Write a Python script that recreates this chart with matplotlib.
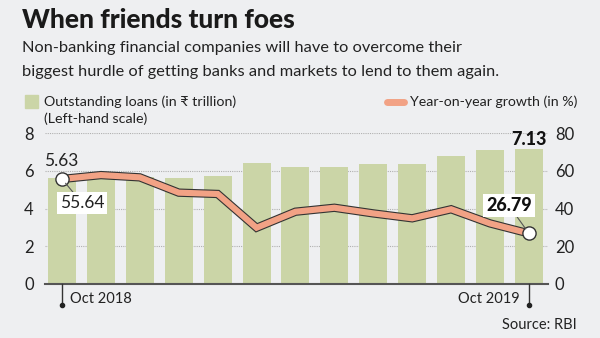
import matplotlib
matplotlib.use("Agg")
import matplotlib.pyplot as plt
import numpy as np

plt.rcParams['font.family'] = ['Lato', 'DejaVu Sans']

months = ["Oct 2018", "Nov 2018", "Dec 2018", "Jan 2019", "Feb 2019", "Mar 2019", "Apr 2019",
          "May 2019", "Jun 2019", "Jul 2019", "Aug 2019", "Sep 2019", "Oct 2019"]
loans = [5.63, 5.60, 5.68, 5.59, 5.73, 6.40, 6.22, 6.22, 6.35, 6.36, 6.79, 7.10, 7.13]
growth = [55.64, 57.7, 56.5, 48.4, 47.7, 29.8, 38.3, 40.4, 37.4, 34.8, 39.6, 32.1, 26.79]

bg = "#eeeff1"
bar_color = "#cbd5a7"
line_color = "#f2a285"
dark = "#222222"

W, H = 600, 338
fig = plt.figure(figsize=(6, 3.38), dpi=100, facecolor=bg)


def fx(x):
    return x / W


def fy(y):
    return 1 - y / H


ax = fig.add_axes([fx(45), fy(284), (548 - 45) / W, (284 - 133) / H])
ax.set_facecolor(bg)
x = np.arange(len(months))

for g in [2, 4, 6, 8]:
    ax.axhline(g, color="#b0b0b0", lw=0.8, ls=(0, (1, 1)), zorder=0)

ax.bar(x, loans, width=0.72, color=bar_color, zorder=1)
ax.set_xlim(-0.437, 12.49)
ax.set_ylim(0, 8)
ax.set_yticks([0, 2, 4, 6, 8])
ax.set_xticks([])
for s in ["top", "right", "left"]:
    ax.spines[s].set_visible(False)
ax.spines["bottom"].set_color("#555555")
ax.spines["bottom"].set_linewidth(1.5)
ax.tick_params(axis="y", length=0, labelsize=12, labelcolor=dark, pad=8)

ax2 = ax.twinx()
ax2.set_ylim(0, 80)
ax2.set_yticks([0, 20, 40, 60, 80])
for s in ["top", "right", "left", "bottom"]:
    ax2.spines[s].set_visible(False)
ax2.tick_params(axis="y", length=0, labelsize=12, labelcolor=dark, pad=5)
ax2.plot(x, growth, color="#333333", lw=6, solid_joinstyle="miter", zorder=3)
ax2.plot(x, growth, color=line_color, lw=4.4, solid_joinstyle="miter", zorder=4)
ax2.plot([x[0], x[-1]], [growth[0], growth[-1]], "o", ms=9.5, mfc="white", mec="#333333", mew=1, zorder=5)

# value labels
ax.annotate(f"{loans[0]:.2f}", (x[0], loans[0]), xytext=(-1, 17), textcoords="offset pixels",
            ha="center", va="center", fontsize=12.5, color=dark, zorder=6)
ax.annotate(f"{loans[-1]:.2f}", (x[-1], loans[-1]), xytext=(0, 10), textcoords="offset pixels",
            ha="center", va="center", fontsize=13, fontweight="black", color="#111111", zorder=6)
ax2.annotate(f"{growth[0]:.2f}", (x[0], growth[0]), xytext=(20, -24), textcoords="offset pixels",
             ha="center", va="center", fontsize=12.5, color=dark, zorder=6,
             bbox=dict(boxstyle="square,pad=0.15", fc="white", ec="none"),
             arrowprops=dict(arrowstyle="-", color="#555555", lw=0.8, shrinkA=0, shrinkB=4))
ax2.annotate(f"{growth[-1]:.2f}", (x[-1], growth[-1]), xytext=(-20, 28), textcoords="offset pixels",
             ha="center", va="center", fontsize=13, fontweight="black", color="#111111", zorder=6,
             bbox=dict(boxstyle="square,pad=0.15", fc="white", ec="none"),
             arrowprops=dict(arrowstyle="-", color="#555555", lw=0.8, shrinkA=0, shrinkB=4))

# x ticks for first and last month
for i, ha, dx in [(0, "left", 8), (len(months) - 1, "right", -9)]:
    ax.plot([x[i], x[i]], [0, -1.1], color="#333333", lw=1, clip_on=False, zorder=6)
    ax.plot([x[i]], [-1.1], "o", ms=3, color="#222222", clip_on=False, zorder=6)
    ax.annotate(months[i], (x[i], 0), xytext=(dx, -15), textcoords="offset pixels",
                ha=ha, va="center", fontsize=10.5, color=dark, annotation_clip=False)

# titles
fig.text(fx(22), fy(20), "When friends turn foes", fontsize=19, fontweight="black",
         color="#1a1a1a", ha="left", va="center")
fig.text(fx(22), fy(48), "Non-banking financial companies will have to overcome their",
         fontsize=11.8, color=dark, ha="left", va="center")
fig.text(fx(22), fy(72), "biggest hurdle of getting banks and markets to lend to them again.",
         fontsize=11.8, color=dark, ha="left", va="center")

# legend
fig.patches.append(plt.Rectangle((fx(25), fy(108)), 13 / W, 13 / H, transform=fig.transFigure,
                                 color=bar_color))
fig.text(fx(44), fy(102), "Outstanding loans (in \u20b9 trillion)", fontsize=10.3, color=dark,
         ha="left", va="center")
fig.text(fx(44), fy(119), "(Left-hand scale)", fontsize=10.3, color=dark, ha="left", va="center")
fig.lines.append(plt.Line2D([fx(387), fx(404)], [fy(102), fy(102)], transform=fig.transFigure,
                            color=line_color, lw=5, solid_capstyle="round"))
fig.text(fx(410), fy(102), "Year-on-year growth (in %)", fontsize=10.2, color=dark,
         ha="left", va="center")

fig.text(fx(577), fy(325), "Source: RBI", fontsize=10.5, color=dark, ha="right", va="center")

fig.savefig("out.png", dpi=100, facecolor=bg)
